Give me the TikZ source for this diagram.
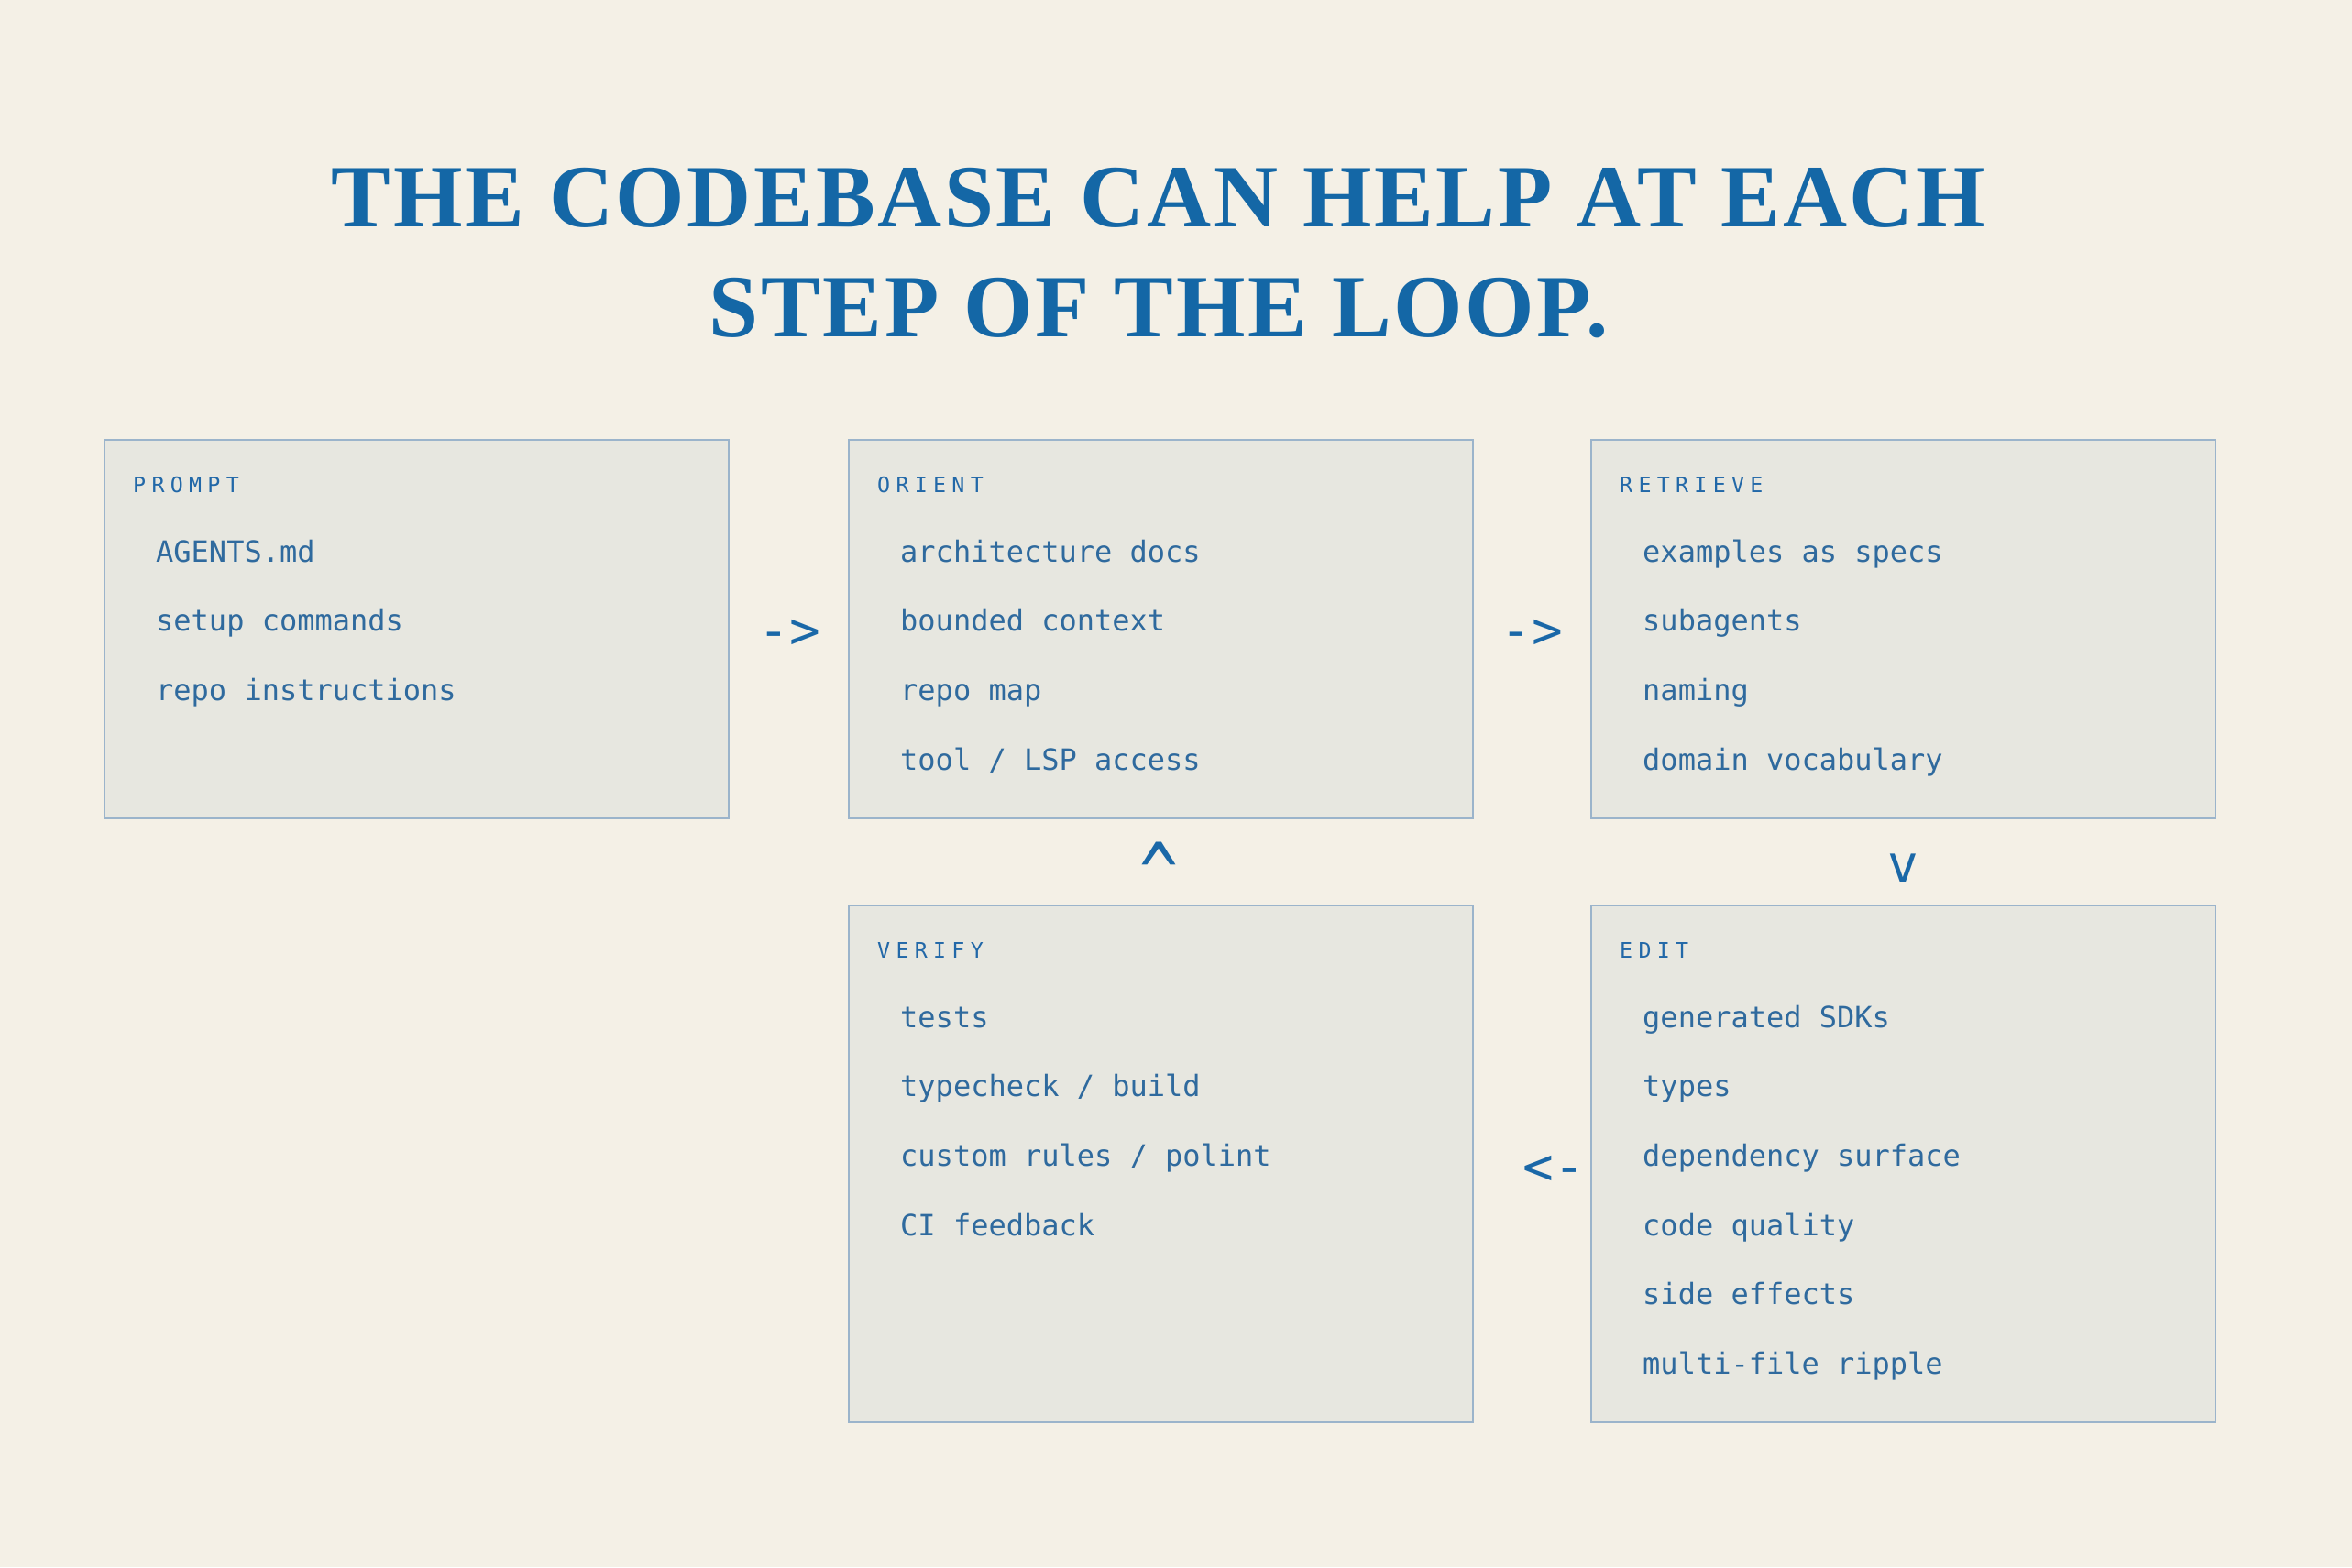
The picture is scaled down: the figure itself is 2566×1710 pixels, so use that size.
\documentclass[tikz,border=0pt]{standalone}
\usepackage{fontspec}
\setmainfont{Liberation Serif}
\newfontfamily\titlefont[LetterSpace=2.8]{Liberation Serif}
\newfontfamily\itemfont{DejaVu Sans Mono}
\newfontfamily\hdrfont[LetterSpace=27]{DejaVu Sans Mono}
\definecolor{bgc}{HTML}{F4F0E6}
\definecolor{boxfill}{HTML}{E7E7E0}
\definecolor{boxline}{HTML}{9BB4CB}
\definecolor{titlec}{HTML}{1467A6}
\definecolor{hdrc}{HTML}{2268A8}
\definecolor{itemc}{HTML}{2F6A9E}
\definecolor{arrc}{HTML}{1A68A8}
\begin{document}
\begin{tikzpicture}[x=1pt,y=-1pt,
  stepbox/.style={draw=boxline, line width=2pt, fill=boxfill, inner sep=0pt, anchor=north west, minimum width=681pt},
  toprow/.style={stepbox, minimum height=413pt},
  botrow/.style={stepbox, minimum height=564pt},
  titletxt/.style={inner sep=0pt, anchor=base, text=titlec, font=\titlefont\bfseries\fontsize{97}{110}\selectfont},
  hdrtxt/.style={inner sep=0pt, anchor=base west, text=hdrc, font=\hdrfont\fontsize{23.3}{28}\selectfont},
  itemtxt/.style={inner sep=0pt, anchor=base west, text=itemc, font=\itemfont\fontsize{32}{38}\selectfont},
  arrtxt/.style={inner sep=0pt, anchor=base, text=arrc, font=\itemfont\fontsize{56}{64}\selectfont}]
\fill[bgc] (0,0) rectangle (2566,1710);
\useasboundingbox (0,0) rectangle (2566,1710);
% title
\node[titletxt] (t1) at (1264,247) {THE CODEBASE CAN HELP AT EACH};
\node[titletxt] (t2) at (1264,367) {STEP OF THE LOOP.};
% boxes
\node[toprow] (prompt) at (113,479) {};
\node[toprow] (orient) at (925,479) {};
\node[toprow] (retrieve) at (1735,479) {};
\node[botrow] (verify) at (925,987) {};
\node[botrow] (edit) at (1735,987) {};
% PROMPT
\node[hdrtxt] (ph) at (145,537) {PROMPT};
\node[itemtxt] (p1) at (170,613) {AGENTS.md};
\node[itemtxt] (p2) at (170,688.7) {setup commands};
\node[itemtxt] (p3) at (170,764.4) {repo instructions};
% ORIENT
\node[hdrtxt] (oh) at (957,537) {ORIENT};
\node[itemtxt] (o1) at (982,613) {architecture docs};
\node[itemtxt] (o2) at (982,688.7) {bounded context};
\node[itemtxt] (o3) at (982,764.4) {repo map};
\node[itemtxt] (o4) at (982,840.1) {tool / LSP access};
% RETRIEVE
\node[hdrtxt] (rh) at (1767,537) {RETRIEVE};
\node[itemtxt] (r1) at (1792,613) {examples as specs};
\node[itemtxt] (r2) at (1792,688.7) {subagents};
\node[itemtxt] (r3) at (1792,764.4) {naming};
\node[itemtxt] (r4) at (1792,840.1) {domain vocabulary};
% VERIFY
\node[hdrtxt] (vh) at (957,1045) {VERIFY};
\node[itemtxt] (v1) at (982,1121) {tests};
\node[itemtxt] (v2) at (982,1196.7) {typecheck / build};
\node[itemtxt] (v3) at (982,1272.4) {custom rules / polint};
\node[itemtxt] (v4) at (982,1348.1) {CI feedback};
% EDIT
\node[hdrtxt] (eh) at (1767,1045) {EDIT};
\node[itemtxt] (e1) at (1792,1121) {generated SDKs};
\node[itemtxt] (e2) at (1792,1196.7) {types};
\node[itemtxt] (e3) at (1792,1272.4) {dependency surface};
\node[itemtxt] (e4) at (1792,1348.1) {code quality};
\node[itemtxt] (e5) at (1792,1423.8) {side effects};
\node[itemtxt] (e6) at (1792,1499.5) {multi-file ripple};
% arrows
\node[arrtxt] (a1) at (861,707) {->};
\node[arrtxt] (a2) at (1671,707) {->};
\node[arrtxt] (a3) at (2076,962) {v};
\node[arrtxt] (a4) at (1695,1292) {<-};
\node[arrtxt, font=\itemfont\fontsize{48}{56}\selectfont] (a5) at (1264,985) {\scalebox{1.45}[1.9]{\textasciicircum}};
\end{tikzpicture}
\end{document}
